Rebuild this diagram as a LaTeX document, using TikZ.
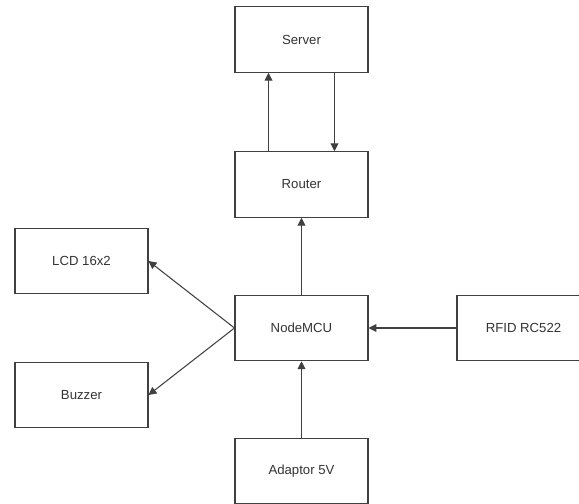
\documentclass[tikz,border=0pt]{standalone}
\usepackage{fontspec}
\setmainfont{Liberation Sans}
\usetikzlibrary{arrows.meta}

\begin{document}
\begin{tikzpicture}[x=0.02cm,y=-0.02cm,
  block/.style={draw=black!75,line width=0.6pt,minimum width=2.66cm,minimum height=1.31cm,
    inner sep=0pt,font=\fontsize{7.5}{9}\selectfont,text=black!80},
  link/.style={draw=black!75,line width=0.6pt,-{Triangle[width=4.5pt,length=4.5pt]}}]
\useasboundingbox (0,0) rectangle (579,504);
\node[block] (server) at (301.5,39.5) {Server};
\node[block] (router) at (301.5,184.5) {Router};
\node[block] (lcd) at (81.5,261) {LCD 16x2};
\node[block] (mcu) at (301.5,328) {NodeMCU};
\node[block] (rfid) at (523.5,328) {RFID RC522};
\node[block] (buzzer) at (81.5,395) {Buzzer};
\node[block] (adaptor) at (301.5,471) {Adaptor 5V};
\draw[link] ([xshift=-0.66cm]router.north) -- ([xshift=-0.66cm]server.south);
\draw[link] ([xshift=0.66cm]server.south) -- ([xshift=0.66cm]router.north);
\draw[link] (mcu) -- (router);
\draw[link] (mcu.west) -- (lcd.east);
\draw[link] (mcu.west) -- (buzzer.east);
\draw[link] (rfid) -- (mcu);
\draw[link] (adaptor) -- (mcu);
\end{tikzpicture}
\end{document}
